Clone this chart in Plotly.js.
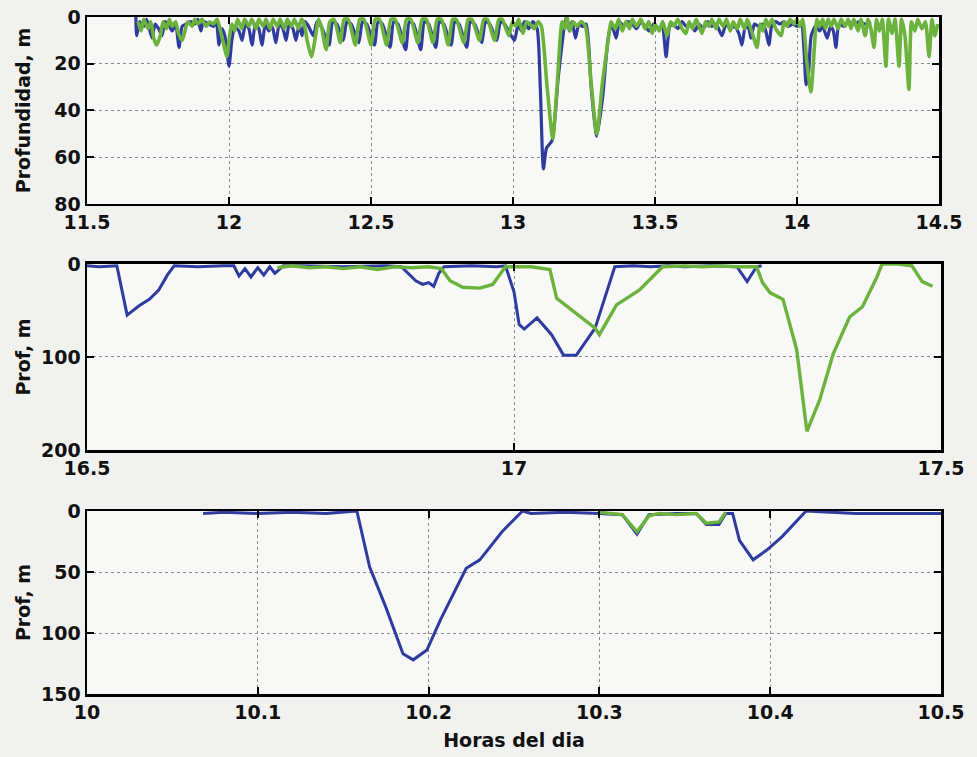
<!DOCTYPE html>
<html>
<head>
<meta charset="utf-8">
<script src="https://cdn.plot.ly/plotly-3.0.1.min.js"></script>
<style>html,body{margin:0;padding:0;background:#f1f1ef;}#chart{width:977px;height:757px;}</style>
</head>
<body>
<div id="chart"></div>
<script>
// ---------- Panel 1 (hours 11.5 - 14.5) ----------
const p1BlueX = [11.672,11.675,11.685,11.70,11.71,11.729,11.74,11.752,11.764,11.775,11.79,11.80,11.812,11.824,11.835,11.85,11.865,11.88,11.89,11.901,11.91,11.93,11.945,11.955,11.965,11.975,11.985,11.992,12.0,12.01,12.02,12.035,12.046,12.058,12.07,12.081,12.093,12.105,12.116,12.128,12.14,12.152,12.165,12.177,12.19,12.201,12.212,12.225,12.236,12.247,12.257,12.268,12.28,12.297,12.31,12.325,12.352,12.365,12.38,12.402,12.415,12.43,12.457,12.47,12.485,12.512,12.525,12.54,12.567,12.58,12.595,12.622,12.635,12.65,12.675,12.688,12.703,12.728,12.741,12.756,12.782,12.795,12.81,12.837,12.85,12.865,12.89,12.903,12.918,12.943,12.956,12.97,13.005,13.018,13.03,13.04,13.055,13.07,13.085,13.096,13.107,13.118,13.137,13.16,13.187,13.198,13.208,13.22,13.232,13.245,13.258,13.275,13.295,13.315,13.335,13.347,13.363,13.375,13.39,13.405,13.42,13.435,13.45,13.465,13.48,13.495,13.51,13.525,13.539,13.552,13.565,13.58,13.595,13.61,13.625,13.64,13.655,13.67,13.685,13.70,13.715,13.736,13.75,13.765,13.78,13.795,13.806,13.818,13.83,13.838,13.85,13.865,13.88,13.89,13.901,13.912,13.925,13.94,13.955,13.97,13.985,14.0,14.015,14.025,14.032,14.04,14.05,14.065,14.08,14.09,14.106,14.118,14.128,14.137,14.148,14.165,14.18,14.2,14.22,14.24,14.26];
const p1BlueY = [0,8,2,4,1,9,3,5,8,2,4,6,3,13,4,3,2,3,1,6,2,3,4,2,12,5,8,14,21,10,4,6,10,3,5,12,3,5,12,3,6,4,11,3,5,10,3,5,10,3,8,2,4,8,2,4,12,2,3,10,2,3,11,2,3,12,2,3,13,2,3,14,2,3,14,2,3,13,2,3,12,2,3,13,2,3,11,2,3,10,2,3,10,3,6,2,5,2,5,30,65,56,53,25,0,6,2,9,3,4,3,30,51,35,9,3,9,2,4,2,3,5,2,4,6,3,5,4,17,4,3,5,2,4,3,6,3,5,2,4,3,8,3,5,4,7,12,4,5,9,3,4,3,6,12,3,2,3,2,4,3,4,3,15,29,25,8,4,6,4,9,4,6,13,3,4,2,3,2,3,2];

const p1GreenX = [11.68,11.69,11.70,11.715,11.725,11.735,11.745,11.758,11.768,11.78,11.79,11.80,11.812,11.822,11.835,11.845,11.855,11.87,11.88,11.89,11.905,11.92,11.932,11.945,11.958,11.97,11.982,11.992,12.0,12.01,12.02,12.03,12.045,12.055,12.07,12.08,12.095,12.105,12.12,12.13,12.145,12.155,12.17,12.18,12.195,12.205,12.22,12.23,12.245,12.255,12.265,12.275,12.29,12.305,12.315,12.325,12.342,12.355,12.37,12.392,12.405,12.42,12.445,12.46,12.475,12.50,12.515,12.53,12.555,12.57,12.585,12.61,12.625,12.64,12.665,12.68,12.695,12.718,12.733,12.748,12.772,12.787,12.80,12.827,12.842,12.855,12.882,12.897,12.91,12.935,12.95,12.962,12.985,12.998,13.01,13.02,13.035,13.048,13.06,13.075,13.088,13.10,13.12,13.14,13.155,13.173,13.183,13.19,13.20,13.212,13.225,13.24,13.255,13.275,13.295,13.315,13.335,13.345,13.36,13.372,13.385,13.398,13.41,13.42,13.435,13.45,13.465,13.478,13.49,13.50,13.515,13.527,13.542,13.555,13.567,13.58,13.595,13.609,13.62,13.632,13.645,13.665,13.678,13.69,13.70,13.715,13.725,13.74,13.752,13.765,13.775,13.79,13.80,13.815,13.825,13.84,13.859,13.87,13.88,13.89,13.90,13.912,13.925,13.944,13.955,13.965,13.975,13.99,14.0,14.01,14.02,14.035,14.049,14.06,14.07,14.08,14.09,14.10,14.11,14.12,14.13,14.145,14.155,14.17,14.18,14.19,14.20,14.215,14.225,14.24,14.25,14.26,14.271,14.28,14.29,14.30,14.313,14.322,14.335,14.345,14.359,14.368,14.38,14.394,14.403,14.415,14.425,14.44,14.452,14.465,14.475,14.485,14.495];
const p1GreenY = [2,6,1,5,2,9,12,8,2,5,1,4,2,7,10,6,2,4,1,3,1,4,2,3,1,6,12,17,10,3,6,1,5,1,4,1,5,1,4,1,5,1,4,1,5,1,4,1,5,1,3,10,17,8,1,4,14,2,1,11,1,1,12,1,1,12,1,1,12,1,1,11,1,1,11,1,1,11,1,1,12,1,1,11,1,1,10,1,1,10,1,1,8,2,4,1,7,2,3,5,2,4,30,52,30,2,5,0,6,2,4,2,4,28,50,28,10,2,5,1,6,2,5,1,4,1,5,2,7,3,6,2,8,2,4,1,5,7,2,5,1,7,2,4,1,5,1,4,1,6,2,5,1,5,1,6,13,3,6,1,4,1,5,8,2,4,1,3,1,4,1,20,32,15,1,4,1,5,1,4,1,5,1,4,1,5,1,6,1,8,1,5,13,1,6,1,21,1,7,1,21,1,8,31,2,6,1,5,2,17,1,8,3];

// ---------- Panel 2 (hours 16.5 - 17.5) ----------
const p2BlueX = [16.5,16.514,16.535,16.547,16.561,16.573,16.584,16.594,16.602,16.63,16.66,16.672,16.678,16.685,16.692,16.70,16.707,16.714,16.72,16.73,16.75,16.80,16.85,16.868,16.885,16.893,16.90,16.906,16.912,16.918,16.95,16.98,16.99,17.0,17.006,17.012,17.027,17.044,17.058,17.073,17.095,17.118,17.14,17.16,17.18,17.20,17.23,17.261,17.273,17.284,17.29];
const p2BlueY = [2,3,2,55,45,38,28,12,2,3,2,2,13,5,14,4,12,3,10,2,2,3,2,3,18,22,20,24,10,3,2,3,2,30,65,70,58,76,98,98,69,3,2,3,2,3,2,3,19,3,2];

const p2GreenX = [16.723,16.74,16.76,16.78,16.80,16.82,16.84,16.86,16.88,16.90,16.915,16.925,16.94,16.96,16.975,16.985,16.99,17.02,17.042,17.05,17.073,17.095,17.10,17.12,17.147,17.167,17.174,17.20,17.22,17.24,17.26,17.284,17.291,17.30,17.315,17.331,17.343,17.358,17.374,17.393,17.408,17.425,17.431,17.45,17.466,17.478,17.49];
const p2GreenY = [4,2,4,3,5,3,6,3,4,3,5,18,25,26,22,10,3,3,6,37,53,69,76,44,28,10,3,2,3,2,3,3,20,31,38,92,180,146,96,57,46,14,0,0,2,19,24];

// ---------- Panel 3 (hours 10.0 - 10.5) ----------
const p3BlueX = [10.068,10.08,10.10,10.12,10.14,10.158,10.1655,10.175,10.185,10.191,10.199,10.207,10.222,10.23,10.243,10.255,10.26,10.28,10.30,10.3134,10.322,10.329,10.345,10.3567,10.3626,10.370,10.374,10.378,10.382,10.39,10.398,10.407,10.421,10.45,10.50];
const p3BlueY = [2,1,2,1,2,0,46,79,117,122,114,89,47,40,17,0,2,1,2,3,19,3,2,2,11,11,2,2,24,40,32,21,0,2,2];

const p3GreenX = [10.30,10.308,10.3134,10.322,10.329,10.335,10.345,10.3567,10.3626,10.370,10.374];
const p3GreenY = [1,2,3,17,4,2,3,2,10,9,1];

// ---------- Axis tick labels ----------
const p1YTicks = [0,20,40,60,80];
const p2XTicks = [16.5,17,17.5];
const p2YTicks = [0,100,200];
const p3YTicks = [0,50,100,150];

const BLUE = '#2f3b9e';
const GREEN = '#6bb33c';

function tr(x, y, color, w, xa, ya, shape) {
  const line = {color: color, width: w, shape: shape || 'linear'};
  if (shape === 'spline') line.smoothing = 0.6;
  return {x: x, y: y, type: 'scatter', mode: 'lines', line: line, xaxis: xa, yaxis: ya, hoverinfo: 'skip'};
}

const data = [
  tr(p1BlueX, p1BlueY, BLUE, 3.2, 'x', 'y', 'spline'),
  tr(p1GreenX, p1GreenY, GREEN, 3.6, 'x', 'y', 'spline'),
  tr(p2BlueX, p2BlueY, BLUE, 3.0, 'x2', 'y2'),
  tr(p2GreenX, p2GreenY, GREEN, 3.4, 'x2', 'y2'),
  tr(p3BlueX, p3BlueY, BLUE, 3.0, 'x3', 'y3'),
  tr(p3GreenX, p3GreenY, GREEN, 3.4, 'x3', 'y3')
];

const FONT = {family: 'DejaVu Sans', size: 19, weight: 'bold', color: '#111'};
const TFONT = {family: 'DejaVu Sans', size: 19, weight: 'bold', color: '#111'};
const common = {
  showline: true, linecolor: '#000', linewidth: 2.5, mirror: 'ticks',
  ticks: 'inside', ticklen: 7, tickwidth: 2, tickcolor: '#000',
  showgrid: true, gridcolor: '#8a8a8a', gridwidth: 1, griddash: 'dot',
  zeroline: false, tickfont: FONT, fixedrange: true
};
function ax(extra) { return Object.assign({}, common, extra); }

const layout = {
  width: 977, height: 757,
  margin: {l: 87, r: 36, t: 17, b: 63},
  paper_bgcolor: '#f1f1ef', plot_bgcolor: '#f8f8f6',
  showlegend: false,
  font: FONT,
  xaxis: ax({domain: [0, 0.9977], range: [11.5, 14.5], dtick: 0.5, tick0: 11.5, anchor: 'y'}),
  yaxis: ax({domain: [0.7238, 1], range: [80, 0], tickvals: p1YTicks, anchor: 'x',
    title: {text: 'Profundidad, m', font: TFONT, standoff: 19}}),
  xaxis2: ax({domain: [0, 1], range: [16.5, 17.5], tickvals: p2XTicks, anchor: 'y2'}),
  yaxis2: ax({domain: [0.3604, 0.6352], range: [200, 0], tickvals: p2YTicks, anchor: 'x2',
    title: {text: 'Prof, m', font: TFONT, standoff: 6}}),
  xaxis3: ax({domain: [0, 1], range: [10, 10.5], dtick: 0.1, tick0: 10, anchor: 'y3',
    title: {text: 'Horas del dia', font: TFONT, standoff: 12}}),
  yaxis3: ax({domain: [0, 0.2703], range: [150, 0], tickvals: p3YTicks, anchor: 'x3',
    title: {text: 'Prof, m', font: TFONT, standoff: 6}})
};

Plotly.newPlot('chart', data, layout, {displayModeBar: false, staticPlot: true});
</script>
</body>
</html>
